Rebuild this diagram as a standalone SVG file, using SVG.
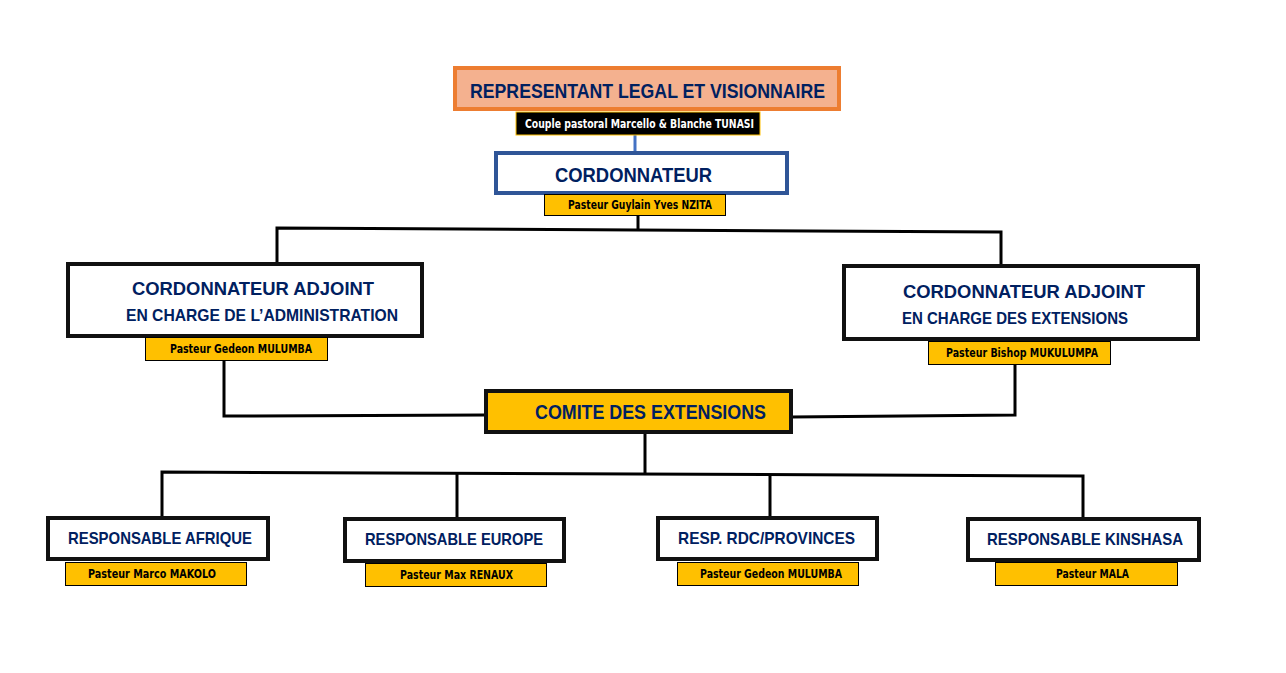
<svg xmlns="http://www.w3.org/2000/svg" width="1286" height="673" viewBox="0 0 1286 673">
<style>
.t{font-family:"Liberation Sans",Arial,sans-serif;font-weight:bold;fill:#002060;}
.l{font-family:"DejaVu Sans","Liberation Sans",sans-serif;font-weight:bold;font-size:11.5px;fill:#000;}
.box{fill:#fff;stroke:#111;stroke-width:4;}
.lab{fill:#FFC000;stroke:#000;stroke-width:1;}
.c{fill:none;stroke:#000;stroke-width:3;}
</style>
<rect width="1286" height="673" fill="#fff"/>
<g id="connectors">
<line x1="635" y1="135" x2="635" y2="151" stroke="#4472C4" stroke-width="3"/>
<polyline class="c" points="638,215 638,230"/>
<polyline class="c" points="277,262 277,228 1001,232 1001,265"/>
<polyline class="c" points="224,361 224,416 485,415"/>
<polyline class="c" points="1015,365 1015,415 791,417"/>
<polyline class="c" points="645,433 645,473"/>
<polyline class="c" points="162,518 162,472 1083,476 1083,518"/>
<line class="c" x1="457" y1="473" x2="457" y2="518"/>
<line class="c" x1="770" y1="475" x2="770" y2="517"/>
</g>
<g id="representant">
<rect x="455" y="68" width="384" height="41" fill="#F4B18F" stroke="#ED7D31" stroke-width="4"/>
<text class="t" x="470" y="98" font-size="21" textLength="355" lengthAdjust="spacingAndGlyphs">REPRESENTANT LEGAL ET VISIONNAIRE</text>
<rect x="516" y="112" width="244" height="23" fill="#000" stroke="#FFC000" stroke-width="1"/>
<text class="l" x="525" y="128" style="fill:#fff" textLength="229" lengthAdjust="spacingAndGlyphs">Couple pastoral Marcello &amp; Blanche TUNASI</text>
</g>
<g id="cordonnateur">
<rect x="496" y="153" width="291" height="40" fill="#fff" stroke="#2F5597" stroke-width="4"/>
<text class="t" x="555" y="182" font-size="20" textLength="157" lengthAdjust="spacingAndGlyphs">CORDONNATEUR</text>
<rect class="lab" x="544.500" y="194.500" width="181" height="21"/>
<text class="l" x="568" y="209" textLength="144" lengthAdjust="spacingAndGlyphs">Pasteur Guylain Yves NZITA</text>
</g>
<g id="adjoint-admin">
<rect class="box" x="68" y="264" width="354" height="72"/>
<text class="t" x="132" y="295" font-size="19" textLength="242" lengthAdjust="spacingAndGlyphs">CORDONNATEUR ADJOINT</text>
<text class="t" x="126" y="321" font-size="17" textLength="272" lengthAdjust="spacingAndGlyphs">EN CHARGE DE L’ADMINISTRATION</text>
<rect class="lab" x="145.500" y="337.500" width="182" height="23"/>
<text class="l" x="170" y="353" textLength="142" lengthAdjust="spacingAndGlyphs">Pasteur Gedeon MULUMBA</text>
</g>
<g id="adjoint-extensions">
<rect class="box" x="844" y="266" width="354" height="73"/>
<text class="t" x="903" y="298" font-size="19" textLength="242" lengthAdjust="spacingAndGlyphs">CORDONNATEUR ADJOINT</text>
<text class="t" x="902" y="324" font-size="17" textLength="226" lengthAdjust="spacingAndGlyphs">EN CHARGE DES EXTENSIONS</text>
<rect class="lab" x="928.500" y="341.500" width="182" height="23"/>
<text class="l" x="946" y="357" textLength="152" lengthAdjust="spacingAndGlyphs">Pasteur Bishop MUKULUMPA</text>
</g>
<g id="comite">
<rect x="486" y="391" width="305" height="41" fill="#FFC000" stroke="#111" stroke-width="4"/>
<text class="t" x="535" y="419" font-size="20" textLength="231" lengthAdjust="spacingAndGlyphs">COMITE DES EXTENSIONS</text>
</g>
<g id="afrique">
<rect class="box" x="48" y="518" width="220" height="41"/>
<text class="t" x="68" y="544" font-size="17" textLength="184" lengthAdjust="spacingAndGlyphs">RESPONSABLE AFRIQUE</text>
<rect class="lab" x="65.500" y="562.500" width="181" height="23"/>
<text class="l" x="88" y="578" textLength="128" lengthAdjust="spacingAndGlyphs">Pasteur Marco MAKOLO</text>
</g>
<g id="europe">
<rect class="box" x="345" y="519" width="219" height="42"/>
<text class="t" x="365" y="545" font-size="17" textLength="178" lengthAdjust="spacingAndGlyphs">RESPONSABLE EUROPE</text>
<rect class="lab" x="365.500" y="563.500" width="181" height="23"/>
<text class="l" x="400" y="579" textLength="113" lengthAdjust="spacingAndGlyphs">Pasteur Max RENAUX</text>
</g>
<g id="rdc">
<rect class="box" x="658" y="518" width="219" height="41"/>
<text class="t" x="678" y="544" font-size="17" textLength="177" lengthAdjust="spacingAndGlyphs">RESP. RDC/PROVINCES</text>
<rect class="lab" x="677.500" y="562.500" width="181" height="23"/>
<text class="l" x="700" y="578" textLength="142" lengthAdjust="spacingAndGlyphs">Pasteur Gedeon MULUMBA</text>
</g>
<g id="kinshasa">
<rect class="box" x="968" y="519" width="231" height="41"/>
<text class="t" x="987" y="545" font-size="17" textLength="196" lengthAdjust="spacingAndGlyphs">RESPONSABLE KINSHASA</text>
<rect class="lab" x="995.500" y="562.500" width="182" height="23"/>
<text class="l" x="1056" y="578" textLength="73" lengthAdjust="spacingAndGlyphs">Pasteur MALA</text>
</g>
</svg>
